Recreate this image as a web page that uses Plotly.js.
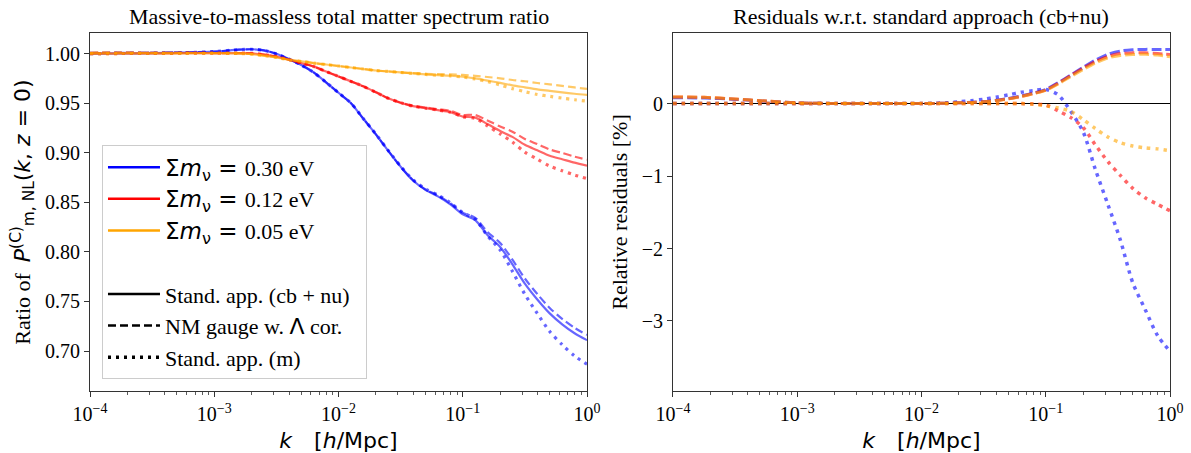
<!DOCTYPE html>
<html>
<head>
<meta charset="utf-8">
<script src="https://cdn.plot.ly/plotly-3.0.1.min.js"></script>
<style>html,body{margin:0;padding:0;background:#fff;}</style>
</head>
<body>
<div id="chart" style="width:1191px;height:453px;"></div>
<script>
// ---- sample wavenumbers k [h/Mpc] ----
const k = [1.0e-4, 1.78e-4, 3.16e-4, 5.62e-4, 1.0e-3, 1.58e-3, 2.0e-3, 2.51e-3, 3.16e-3, 3.98e-3,
           5.01e-3, 6.31e-3, 7.94e-3, 0.0100, 0.0126, 0.0158, 0.0200, 0.0251, 0.0316, 0.0398,
           0.0501, 0.0631, 0.0794, 0.100, 0.126, 0.158, 0.200, 0.251, 0.316, 0.398,
           0.501, 0.631, 0.794, 1.0];

// ---- left panel: ratio massive / massless ----
const ratioBlueSolid  = [1.0000,1.0002,1.0005,1.0010,1.0020,1.0040,1.0044,1.0032,0.9998,0.9945,
                         0.9885,0.9810,0.9710,0.9605,0.9500,0.9345,0.9185,0.9020,0.8860,0.8720,
                         0.8625,0.8560,0.8480,0.8380,0.8320,0.8170,0.8050,0.7875,0.7680,0.7520,
                         0.7380,0.7270,0.7180,0.7110];
const ratioBlueDash   = [1.0008,1.0010,1.0011,1.0013,1.0021,1.0040,1.0044,1.0032,0.9998,0.9945,
                         0.9885,0.9810,0.9710,0.9605,0.9500,0.9345,0.9185,0.9020,0.8860,0.8723,
                         0.8630,0.8569,0.8492,0.8396,0.8344,0.8202,0.8090,0.7922,0.7732,0.7575,
                         0.7435,0.7324,0.7234,0.7163];
const ratioBlueDot    = [1.0000,1.0002,1.0005,1.0010,1.0020,1.0040,1.0044,1.0032,0.9998,0.9945,
                         0.9885,0.9810,0.9710,0.9605,0.9501,0.9346,0.9187,0.9024,0.8865,0.8728,
                         0.8635,0.8573,0.8495,0.8396,0.8330,0.8162,0.8019,0.7804,0.7573,0.7379,
                         0.7198,0.7064,0.6950,0.6867];
const ratioRedSolid   = [1.0000,1.0001,1.0002,1.0004,1.0005,1.0005,1.0003,0.9990,0.9970,0.9940,
                         0.9905,0.9870,0.9820,0.9770,0.9720,0.9670,0.9610,0.9550,0.9505,0.9470,
                         0.9450,0.9430,0.9410,0.9365,0.9355,0.9290,0.9220,0.9160,0.9080,0.9025,
                         0.8970,0.8935,0.8900,0.8870];
const ratioRedDash    = [1.0009,1.0010,1.0008,1.0008,1.0006,1.0005,1.0003,0.9990,0.9970,0.9940,
                         0.9905,0.9870,0.9820,0.9770,0.9720,0.9670,0.9610,0.9550,0.9505,0.9474,
                         0.9456,0.9439,0.9423,0.9382,0.9381,0.9326,0.9265,0.9213,0.9139,0.9087,
                         0.9033,0.8998,0.8961,0.8930];
const ratioRedDot     = [1.0000,1.0001,1.0002,1.0004,1.0005,1.0005,1.0003,0.9990,0.9970,0.9940,
                         0.9905,0.9870,0.9820,0.9770,0.9720,0.9670,0.9610,0.9550,0.9505,0.9470,
                         0.9450,0.9430,0.9410,0.9363,0.9347,0.9272,0.9190,0.9108,0.9007,0.8936,
                         0.8865,0.8819,0.8776,0.8739];
const ratioOrangeSolid= [1.0000,1.0001,1.0002,1.0003,1.0004,1.0002,0.9995,0.9980,0.9962,0.9938,
                         0.9922,0.9905,0.9890,0.9875,0.9860,0.9845,0.9830,0.9820,0.9810,0.9800,
                         0.9790,0.9783,0.9777,0.9767,0.9750,0.9728,0.9705,0.9680,0.9660,0.9640,
                         0.9625,0.9610,0.9595,0.9583];
const ratioOrangeDash = [1.0009,1.0010,1.0008,1.0007,1.0005,1.0002,0.9995,0.9980,0.9962,0.9938,
                         0.9922,0.9905,0.9890,0.9875,0.9860,0.9845,0.9830,0.9820,0.9810,0.9804,
                         0.9796,0.9793,0.9791,0.9785,0.9776,0.9764,0.9751,0.9734,0.9721,0.9704,
                         0.9690,0.9675,0.9659,0.9645];
const ratioOrangeDot  = [1.0000,1.0001,1.0002,1.0003,1.0004,1.0002,0.9995,0.9980,0.9962,0.9938,
                         0.9922,0.9905,0.9890,0.9875,0.9860,0.9845,0.9830,0.9820,0.9810,0.9800,
                         0.9790,0.9783,0.9776,0.9764,0.9744,0.9718,0.9684,0.9647,0.9616,0.9588,
                         0.9569,0.9551,0.9535,0.9521];

// ---- right panel: relative residuals [%] w.r.t. standard approach (cb+nu) ----
const resBlueDash   = [0.080,0.077,0.058,0.032,0.010,0.003,0.001,0.000,0.000,0.000,
                       0.000,0.000,0.000,0.000,0.002,0.006,0.011,0.018,0.028,0.045,
                       0.070,0.105,0.145,0.195,0.290,0.390,0.500,0.600,0.680,0.725,
                       0.742,0.748,0.747,0.745];
const resRedDash    = [0.090,0.086,0.063,0.035,0.010,0.003,0.001,0.000,0.000,0.000,
                       0.000,0.000,0.000,0.000,0.002,0.005,0.010,0.016,0.026,0.042,
                       0.066,0.098,0.140,0.188,0.280,0.385,0.490,0.580,0.650,0.690,
                       0.700,0.700,0.690,0.677];
const resOrangeDash = [0.090,0.086,0.063,0.035,0.010,0.003,0.001,0.000,0.000,0.000,
                       0.000,0.000,0.000,0.000,0.002,0.005,0.010,0.016,0.026,0.042,
                       0.065,0.096,0.136,0.182,0.270,0.370,0.470,0.560,0.630,0.665,
                       0.677,0.680,0.670,0.645];
const resBlueDot    = [0.000,0.000,0.000,0.000,0.000,0.000,0.000,0.000,0.000,0.000,
                       0.000,0.000,0.000,0.000,0.004,0.010,0.025,0.040,0.060,0.087,
                       0.120,0.155,0.178,0.195,0.120,-0.100,-0.390,-0.910,-1.390,-1.880,
                       -2.470,-2.840,-3.200,-3.420];
const resRedDot     = [0.000,0.000,0.000,0.000,0.000,0.000,0.000,0.000,0.000,0.000,
                       0.000,0.000,0.000,0.000,0.000,0.000,0.000,0.000,0.000,0.000,
                       0.000,0.000,-0.005,-0.020,-0.100,-0.190,-0.330,-0.570,-0.800,-0.990,
                       -1.170,-1.300,-1.390,-1.480];
const resOrangeDot  = [0.000,0.000,0.000,0.000,0.000,0.000,0.000,0.000,0.000,0.000,
                       0.000,0.000,0.000,0.000,0.000,0.000,0.000,0.000,0.000,0.000,
                       0.000,0.000,-0.010,-0.030,-0.060,-0.105,-0.220,-0.345,-0.460,-0.540,
                       -0.585,-0.610,-0.625,-0.650];

// ---- labels ----
const massLabels = ['0.30', '0.12', '0.05'];
const methodLabels = ['Stand. app. (cb + nu)', 'NM gauge w. Λ cor.', 'Stand. app. (m)'];
const xTickVals = [1e-4, 1e-3, 1e-2, 1e-1, 1];
const xTickText = ['10<sup>\u22124</sup>', '10<sup>\u22123</sup>', '10<sup>\u22122</sup>', '10<sup>\u22121</sup>', '10<sup>0</sup>'];

// ---- styles ----
const lineCol = ['rgba(0,0,255,0.6)', 'rgba(255,0,0,0.6)', 'rgba(255,165,0,0.6)'];
const legCol = ['#0000ff', '#ff0000', '#ffa500'];
const SERIF = 'Liberation Serif, Times New Roman, serif';
const SANS = 'DejaVu Sans';

const ratios = [[ratioBlueSolid, ratioBlueDash, ratioBlueDot],
                [ratioRedSolid, ratioRedDash, ratioRedDot],
                [ratioOrangeSolid, ratioOrangeDash, ratioOrangeDot]];
const resid = [[resBlueDash, resBlueDot], [resRedDash, resRedDot], [resOrangeDash, resOrangeDot]];

const leftStyles = [
  {width: 2.2, dash: 'solid'},
  {width: 2.2, dash: '8px,4px'},
  {width: 3.2, dash: '3px,5px'}
];
const rightStyles = [
  {width: 3, dash: '10px,4px'},
  {width: 3.5, dash: '3.5px,5px'}
];

const traces = [];
for (let m = 0; m < 3; m++) {
  for (let s = 0; s < 3; s++) {
    traces.push({
      x: k, y: ratios[m][s], type: 'scatter', mode: 'lines',
      xaxis: 'x', yaxis: 'y', showlegend: false, hoverinfo: 'skip',
      line: {color: lineCol[m], width: leftStyles[s].width, dash: leftStyles[s].dash, shape: 'spline', smoothing: 0.8}
    });
  }
  for (let s = 0; s < 2; s++) {
    traces.push({
      x: k, y: resid[m][s], type: 'scatter', mode: 'lines',
      xaxis: 'x2', yaxis: 'y2', showlegend: false, hoverinfo: 'skip',
      line: {color: lineCol[m], width: rightStyles[s].width, dash: rightStyles[s].dash, shape: 'spline', smoothing: 0.8}
    });
  }
}
// legend entries
for (let m = 0; m < 3; m++) {
  traces.push({
    x: [null], y: [null], type: 'scatter', mode: 'lines', xaxis: 'x', yaxis: 'y',
    legendgroup: 'mass', showlegend: true,
    name: '<span style="font-family:\'DejaVu Sans\';font-size:23px">\u03A3<i>m</i><sub>\u03BD</sub> = </span>' + massLabels[m] + ' eV',
    line: {color: legCol[m], width: 2.5}
  });
}
const legDash = ['solid', '8px,4px', '3px,5px'];
const legW = [2.5, 2.5, 3.5];
for (let s = 0; s < 3; s++) {
  let nm = methodLabels[s];
  if (s === 1) nm = 'NM gauge w. <span style="font-family:\'DejaVu Sans\'">\u039B</span> cor.';
  if (s === 0) nm = nm + '\u2002';
  traces.push({
    x: [null], y: [null], type: 'scatter', mode: 'lines', xaxis: 'x', yaxis: 'y',
    legendgroup: 'method', showlegend: true, name: nm,
    line: {color: '#000000', width: legW[s], dash: legDash[s]}
  });
}

const minorVals = [];
for (let e = -4; e < 0; e++) {
  for (let d = 2; d <= 9; d++) minorVals.push(d * Math.pow(10, e));
}

const axLine = '#333333';
function xAxis(domain, anchor) {
  return {
    type: 'log', domain: domain, anchor: anchor, range: [-4, 0],
    showgrid: false, zeroline: false,
    showline: true, linecolor: axLine, linewidth: 1, mirror: true,
    ticks: 'outside', ticklen: 5, tickwidth: 1, tickcolor: axLine,
    tickmode: 'array', tickvals: xTickVals, ticktext: xTickText,
    tickfont: {family: SERIF, size: 20, color: '#000'},
    minor: {tickvals: minorVals, ticks: 'outside', ticklen: 3, tickwidth: 0.8, tickcolor: axLine, showgrid: false},
    title: {text: '<i>k</i>\u2002\u2002[<i>h</i>/Mpc]', font: {family: SANS, size: 22, color: '#000'}, standoff: 8}
  };
}

const layout = {
  width: 1191, height: 453,
  margin: {l: 90, r: 21, t: 33, b: 62},
  paper_bgcolor: '#ffffff', plot_bgcolor: '#ffffff',
  font: {family: SERIF, size: 20, color: '#000'},
  xaxis: xAxis([0, 0.4602], 'y'),
  xaxis2: xAxis([0.5398, 1], 'y2'),
  yaxis: {
    domain: [0, 1], anchor: 'x', range: [0.6597, 1.0208],
    showgrid: false, zeroline: false,
    showline: true, linecolor: axLine, linewidth: 1, mirror: true,
    ticks: 'outside', ticklen: 5, tickwidth: 1, tickcolor: axLine,
    tick0: 0.7, dtick: 0.05, tickformat: '.2f',
    tickfont: {family: SERIF, size: 20, color: '#000'},
    title: {text: 'Ratio of\u2002<span style="font-family:\'DejaVu Sans\'"><i>P</i><sup>(C)</sup><sub>m, NL</sub>(<i>k</i>, <i>z</i> = 0)</span>',
            font: {family: SERIF, size: 22, color: '#000'}, standoff: 8}
  },
  yaxis2: {
    domain: [0, 1], anchor: 'x2', range: [-3.966, 0.974],
    showgrid: false,
    zeroline: true, zerolinecolor: '#000000', zerolinewidth: 1,
    showline: true, linecolor: axLine, linewidth: 1, mirror: true,
    ticks: 'outside', ticklen: 5, tickwidth: 1, tickcolor: axLine,
    tick0: 0, dtick: 1,
    tickfont: {family: SERIF, size: 20, color: '#000'},
    title: {text: 'Relative residuals [%]', font: {family: SERIF, size: 22, color: '#000'}, standoff: 8}
  },
  legend: {
    x: 0.0111, y: 0.686, xanchor: 'left', yanchor: 'top',
    bgcolor: 'rgba(255,255,255,0.8)', bordercolor: '#cccccc', borderwidth: 1,
    font: {family: SERIF, size: 22, color: '#000'},
    traceorder: 'grouped', tracegroupgap: 32, itemwidth: 52
  },
  annotations: [
    {text: 'Massive-to-massless total matter spectrum ratio', xref: 'x domain', yref: 'y domain', x: 0.5, y: 1,
     xanchor: 'center', yanchor: 'bottom', yshift: 2, showarrow: false, font: {family: SERIF, size: 22, color: '#000'}},
    {text: 'Residuals w.r.t. standard approach (cb+nu)', xref: 'x2 domain', yref: 'y2 domain', x: 0.5, y: 1,
     xanchor: 'center', yanchor: 'bottom', yshift: 2, showarrow: false, font: {family: SERIF, size: 22, color: '#000'}}
  ],
  showlegend: true
};

Plotly.newPlot('chart', traces, layout, {staticPlot: true, displayModeBar: false});
</script>
</body>
</html>
